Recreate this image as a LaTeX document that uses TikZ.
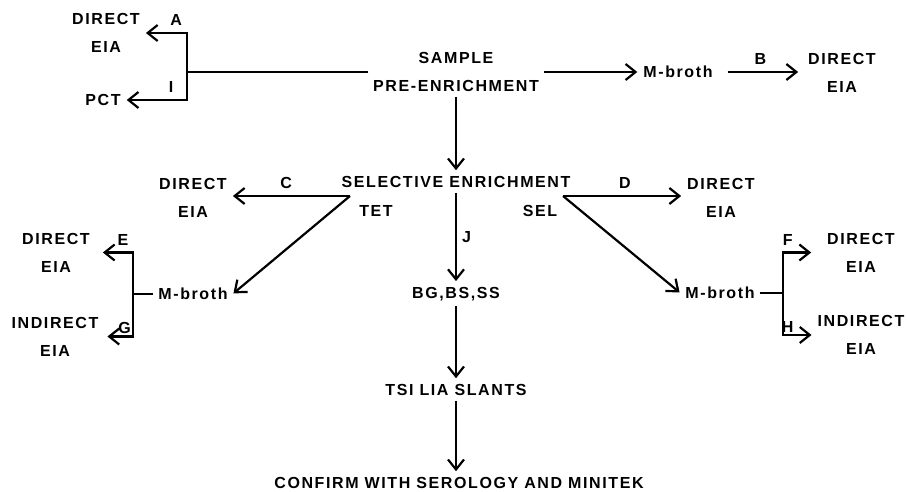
\documentclass[tikz,border=0pt]{standalone}
\usepackage{fontspec}
\setmainfont{Liberation Sans}[LetterSpace=10]
\usetikzlibrary{arrows.meta}

\begin{document}
\begin{tikzpicture}[x=1pt,y=-1pt,shorten >=1pt,->,line width=2.2pt,
    >={Straight Barb[length=10pt,width=16pt]},
    font=\fontsize{16}{28}\selectfont\bfseries]
    \tikzstyle{box}=[inner sep=4pt,align=center]
    \tikzstyle{tag}=[inner sep=6pt]

    \useasboundingbox (0,0) rectangle (907,492);

    % main column nodes
    \node[box] (S) at (456,72) {SAMPLE\\PRE-ENRICHMENT};
    \node[box] (SE) at (456,182) {SELECTIVE ENRICHMENT};
    \node[box] (TET) at (376,211) {TET};
    \node[box] (SEL) at (540,211) {SEL};
    \node[box] (BG) at (456,294) {BG,BS,SS};
    \node[box] (TSI) at (456,390) {TSI LIA SLANTS};
    \node[box] (CF) at (459,483) {CONFIRM WITH SEROLOGY AND MINITEK};

    % M-broth nodes
    \node[box] (M-1) at (678,72) {M-broth};
    \node[box] (M-2) at (193,294) {M-broth};
    \node[box] (M-3) at (720,293) {M-broth};

    % EIA end nodes
    \node[box] (D-A) at (106,33) {DIRECT\\EIA};
    \node[box] (P-I) at (103,100) {PCT};
    \node[box] (D-B) at (842,72.5) {DIRECT\\EIA};
    \node[box] (D-C) at (193,197.5) {DIRECT\\EIA};
    \node[box] (D-D) at (721,197.5) {DIRECT\\EIA};
    \node[box] (D-E) at (56,252.5) {DIRECT\\EIA};
    \node[box] (N-G) at (55,336.5) {INDIRECT\\EIA};
    \node[box] (D-F) at (861,252.5) {DIRECT\\EIA};
    \node[box] (N-H) at (861,335) {INDIRECT\\EIA};

    % branch points
    \coordinate (J-1) at (187,72);
    \coordinate (J-2) at (350,196);
    \coordinate (J-3) at (563,196);
    \coordinate (J-4) at (133,294);
    \coordinate (J-5) at (783,293);

    % pre-enrichment branches
    \draw[-] (S.west) -- (J-1);
    \draw (J-1) |- node[tag,pos=0.63,above] {A} (D-A.east);
    \draw (J-1) |- node[tag,pos=0.63,above] {I} (P-I.east);
    \draw (S.east) -- (M-1.west);
    \draw[shorten <=10pt,shorten >=5pt] (M-1.east) -- node[tag,above] {B} (M-1.east -| D-B.west);
    \draw (S.south) -- (SE.north);

    % selective enrichment branches
    \draw (J-2) -- node[tag,pos=0.54,above] {C} (J-2 -| D-C.east);
    \draw (J-2) -- (M-2.east);
    \draw (J-3) -- node[tag,pos=0.52,above] {D} (J-3 -| D-D.west);
    \draw (J-3) -- (M-3.west);
    \draw (SE.south) -- node[right,inner sep=5pt] {J} (BG.north);
    \draw (BG.south) -- (TSI.north);
    \draw (TSI.south) -- (TSI.south |- CF.north);

    % M-broth branches
    \draw[-] (M-2.west) -- (J-4);
    \draw (J-4) |- node[tag,pos=0.66,above] {E} ([xshift=7pt]D-E.east);
    \draw (J-4) |- node[inner sep=2pt,pos=0.66,above] {G} ([xshift=3pt]N-G.east);
    \draw[-] (M-3.east) -- (J-5);
    \draw (J-5) |- node[tag,pos=0.58,above] {F} ([xshift=-10pt]D-F.west);
    \draw (J-5) |- node[inner sep=1pt,pos=0.58,above] {H} (N-H.west);
  \end{tikzpicture}
\end{document}
